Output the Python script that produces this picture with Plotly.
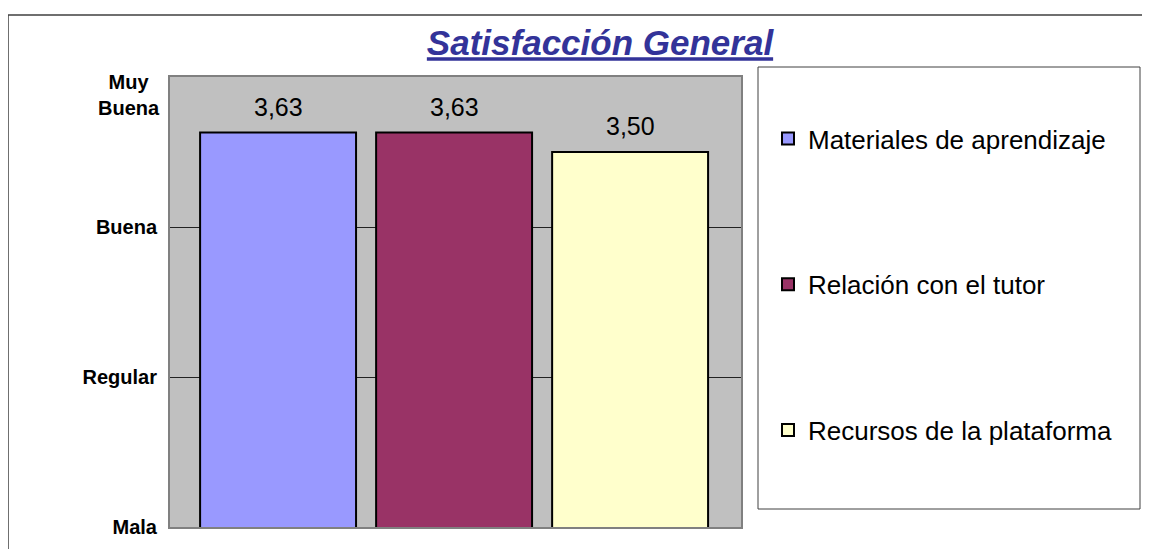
import plotly.graph_objects as go

# ---- data ----
series_names = ["Materiales de aprendizaje", "Relación con el tutor", "Recursos de la plataforma"]
series_values = [3.63, 3.63, 3.50]
series_colors = ["#9999FF", "#993366", "#FFFFCC"]
y_tick_values = [1, 2, 3, 4]
y_tick_labels = ["Mala", "Regular", "Buena", ""]
top_label = "Muy<br>Buena"
title_text = "Satisfacción General"

# page is drawn with an 8px body margin, so work in page pixels and convert
OFF = 8
W, H = 1150 - OFF, 549 - OFF
PL, PR, PT, PB = 170, 741, 77, 527          # plot area in page pixels
L, R, T, B = PL - OFF, W - (PR - OFF), PT - OFF, H - (PB - OFF)
pw = PR - PL
ph = PB - PT


def px_x(px):
    return (px - PL) / pw


def px_y(py):
    return (PB - py) / ph


FONT = "Arial, Liberation Sans, sans-serif"

fig = go.Figure()
for name, val, col in zip(series_names, series_values, series_colors):
    fig.add_trace(go.Bar(
        x=[name], y=[val], name=name, width=0.886,
        marker=dict(color=col, line=dict(color="#000000", width=2)),
        legendgroup=name,
    ))
    fig.add_annotation(
        x=name, y=val, xref="x", yref="y",
        text=f"{val:.2f}".replace(".", ","),
        showarrow=False, yanchor="bottom", yshift=10,
        font=dict(family=FONT, size=25, color="#000000"),
    )

# top y label (two centred lines, sitting slightly below the tick like the original)
fig.add_annotation(
    x=0, xref="paper", y=y_tick_values[-1], yref="y",
    text="<b>" + top_label + "</b>", align="center",
    showarrow=False, xanchor="right", yanchor="middle",
    xshift=-8, yshift=-18,
    font=dict(family=FONT, size=20, color="#000000"),
)

fig.update_layout(
    width=W, height=H,
    margin=dict(l=L, r=R, t=T, b=B),
    paper_bgcolor="#FFFFFF",
    plot_bgcolor="#C0C0C0",
    barmode="overlay",
    showlegend=True,
    title=dict(
        text="<b><i><u>" + title_text + "</u></i></b>",
        x=(600 - OFF) / W, xanchor="center", xref="container",
        y=1 - (43 - OFF) / H, yanchor="middle", yref="container",
        font=dict(family=FONT, size=35, color="#333399"),
    ),
    legend=dict(
        x=px_x(768), xanchor="left",
        y=px_y(115), yanchor="top",
        bgcolor="rgba(0,0,0,0)",
        borderwidth=0,
        tracegroupgap=109,
        font=dict(family=FONT, size=26, color="#000000"),
        traceorder="grouped",
    ),
    xaxis=dict(
        range=[-0.614, 2.63], showticklabels=False, showgrid=False,
        zeroline=False, showline=True, linecolor="#808080", linewidth=2,
        mirror=True, ticks="",
    ),
    yaxis=dict(
        range=[1, 4], tickvals=y_tick_values, ticktext=y_tick_labels,
        showgrid=True, gridcolor="#222222", gridwidth=1,
        zeroline=False, showline=True, linecolor="#808080", linewidth=2,
        mirror=True, ticks="", ticklabelstandoff=7,
        tickfont=dict(family=FONT, size=20, color="#000000", weight="bold"),
    ),
    shapes=[
        # outer chart frame
        dict(type="rect", xref="paper", yref="paper",
             x0=px_x(8), x1=px_x(1170), y0=px_y(15), y1=px_y(570),
             line=dict(color="#404040", width=1.5), fillcolor="rgba(0,0,0,0)", layer="below"),
        # legend frame
        dict(type="rect", xref="paper", yref="paper",
             x0=px_x(758), x1=px_x(1140), y0=px_y(67), y1=px_y(509),
             line=dict(color="#404040", width=1), fillcolor="#FFFFFF", layer="below"),
    ],
)

fig.write_html("out.html")
